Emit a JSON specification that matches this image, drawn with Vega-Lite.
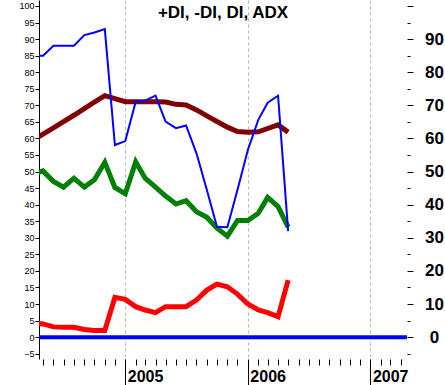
{
  "$schema": "https://vega.github.io/schema/vega-lite/v6.json",
  "width": 368,
  "height": 359,
  "autosize": {"type": "none"},
  "padding": {"left": 39, "top": 0, "right": 38, "bottom": 26},
  "background": "white",
  "config": {"view": {"stroke": null}, "font": "Liberation Sans"},
  "title": {
    "text": "+DI, -DI, DI, ADX",
    "anchor": "middle",
    "frame": "group",
    "font": "Liberation Sans",
    "fontSize": 17,
    "fontWeight": "bold",
    "color": "black",
    "baseline": "alphabetic",
    "offset": 0,
    "dy": 38
  },
  "datasets": {
    "di": [
      {"date": "2004-04-01", "pdi": 49.2, "mdi": 4.2, "dx": 85, "adx": 59.5},
      {"date": "2004-05-01", "pdi": 50.2, "mdi": 4.0, "dx": 85, "adx": 61.3},
      {"date": "2004-06-01", "pdi": 47.0, "mdi": 3.1, "dx": 88, "adx": 63.2},
      {"date": "2004-07-01", "pdi": 45.3, "mdi": 3.0, "dx": 88, "adx": 65.1},
      {"date": "2004-08-01", "pdi": 48.0, "mdi": 3.0, "dx": 88, "adx": 67.0},
      {"date": "2004-09-01", "pdi": 45.3, "mdi": 2.3, "dx": 91.2, "adx": 69.0},
      {"date": "2004-10-01", "pdi": 47.5, "mdi": 2.0, "dx": 92, "adx": 71.0},
      {"date": "2004-11-01", "pdi": 52.8, "mdi": 2.0, "dx": 93, "adx": 72.9},
      {"date": "2004-12-01", "pdi": 45.2, "mdi": 12.0, "dx": 58, "adx": 72.0},
      {"date": "2005-01-01", "pdi": 43.3, "mdi": 11.4, "dx": 59.2, "adx": 71.1},
      {"date": "2005-02-01", "pdi": 52.9, "mdi": 9.2, "dx": 71.1, "adx": 71.1},
      {"date": "2005-03-01", "pdi": 48.0, "mdi": 8.2, "dx": 71.4, "adx": 71.1},
      {"date": "2005-04-01", "pdi": 45.3, "mdi": 7.4, "dx": 72.9, "adx": 71.1},
      {"date": "2005-05-01", "pdi": 42.6, "mdi": 9.2, "dx": 65.1, "adx": 71.0},
      {"date": "2005-06-01", "pdi": 40.2, "mdi": 9.2, "dx": 63.1, "adx": 70.3},
      {"date": "2005-07-01", "pdi": 41.2, "mdi": 9.2, "dx": 63.9, "adx": 70.1},
      {"date": "2005-08-01", "pdi": 37.9, "mdi": 11.2, "dx": 55.5, "adx": 68.6},
      {"date": "2005-09-01", "pdi": 36.2, "mdi": 14.2, "dx": 44.4, "adx": 66.8},
      {"date": "2005-10-01", "pdi": 32.9, "mdi": 16.0, "dx": 33.3, "adx": 65.1},
      {"date": "2005-11-01", "pdi": 30.5, "mdi": 15.2, "dx": 33.2, "adx": 63.4},
      {"date": "2005-12-01", "pdi": 35.2, "mdi": 13.0, "dx": 44.4, "adx": 62.1},
      {"date": "2006-01-01", "pdi": 35.2, "mdi": 10.0, "dx": 56.5, "adx": 61.9},
      {"date": "2006-02-01", "pdi": 37.4, "mdi": 8.2, "dx": 65.6, "adx": 62.0},
      {"date": "2006-03-01", "pdi": 42.2, "mdi": 7.4, "dx": 70.8, "adx": 63.0},
      {"date": "2006-04-01", "pdi": 39.4, "mdi": 6.2, "dx": 72.9, "adx": 64.1},
      {"date": "2006-05-01", "pdi": 33.2, "mdi": 17.2, "dx": 32.0, "adx": 61.9}
    ],
    "zero": [
      {"date": "2004-03-01", "value": 0}, {"date": "2004-04-01", "value": 0},
      {"date": "2004-05-01", "value": 0}, {"date": "2004-06-01", "value": 0},
      {"date": "2004-07-01", "value": 0}, {"date": "2004-08-01", "value": 0},
      {"date": "2004-09-01", "value": 0}, {"date": "2004-10-01", "value": 0},
      {"date": "2004-11-01", "value": 0}, {"date": "2004-12-01", "value": 0},
      {"date": "2005-01-01", "value": 0}, {"date": "2005-02-01", "value": 0},
      {"date": "2005-03-01", "value": 0}, {"date": "2005-04-01", "value": 0},
      {"date": "2005-05-01", "value": 0}, {"date": "2005-06-01", "value": 0},
      {"date": "2005-07-01", "value": 0}, {"date": "2005-08-01", "value": 0},
      {"date": "2005-09-01", "value": 0}, {"date": "2005-10-01", "value": 0},
      {"date": "2005-11-01", "value": 0}, {"date": "2005-12-01", "value": 0},
      {"date": "2006-01-01", "value": 0}, {"date": "2006-02-01", "value": 0},
      {"date": "2006-03-01", "value": 0}, {"date": "2006-04-01", "value": 0},
      {"date": "2006-05-01", "value": 0}, {"date": "2006-06-01", "value": 0},
      {"date": "2006-07-01", "value": 0}, {"date": "2006-08-01", "value": 0},
      {"date": "2006-09-01", "value": 0}, {"date": "2006-10-01", "value": 0},
      {"date": "2006-11-01", "value": 0}, {"date": "2006-12-01", "value": 0},
      {"date": "2007-01-01", "value": 0}, {"date": "2007-02-01", "value": 0},
      {"date": "2007-03-01", "value": 0}, {"date": "2007-04-01", "value": 0},
      {"date": "2007-05-01", "value": 0}
    ]
  },
  "encoding": {
    "x": {
      "field": "date",
      "type": "temporal",
      "scale": {"domain": [{"year": 2004, "month": 4, "date": 19}, {"year": 2007, "month": 4, "date": 20}]},
      "axis": {
        "title": null,
        "tickCount": {"interval": "month", "step": 1},
        "labelExpr": "month(datum.value) === 0 ? timeFormat(datum.value, '%Y') : ''",
        "labelAlign": "left",
        "labelBaseline": "alphabetic",
        "labelOffset": 2,
        "labelPadding": -4,
        "labelFont": "Liberation Sans",
        "labelFontSize": 16,
        "labelFontWeight": "bold",
        "labelColor": "black",
        "labelOverlap": false,
        "labelBound": false,
        "labelFlush": false,
        "tickSize": {"condition": {"test": "month(datum.value) === 0", "value": 26}, "value": 6},
        "tickColor": "black",
        "tickWidth": 1,
        "domain": false,
        "grid": true,
        "gridDash": [3, 3],
        "gridColor": "#b4b4b4",
        "gridOpacity": {"condition": {"test": "month(datum.value) === 0", "value": 1}, "value": 0}
      }
    }
  },
  "layer": [
    {
      "data": {"name": "zero"},
      "mark": {"type": "line", "color": "#0000ff", "strokeWidth": 4, "clip": true, "strokeCap": "butt"},
      "encoding": {
        "y": {
          "field": "value",
          "type": "quantitative",
          "scale": {"domain": [-6.6, 101.8], "nice": false, "zero": false},
          "axis": {
            "orient": "left",
            "title": null,
            "values": [-5, 0, 5, 10, 15, 20, 25, 30, 35, 40, 45, 50, 55, 60, 65, 70, 75, 80, 85, 90, 95, 100],
            "tickSize": 4,
            "tickColor": "black",
            "domainColor": "black",
            "labelFont": "Liberation Sans",
            "labelFontSize": 9,
            "labelPadding": 1,
            "labelColor": "black",
            "labelOverlap": false,
            "labelBound": false,
            "labelFlush": false,
            "grid": false
          }
        }
      }
    },
    {
      "data": {"name": "di"},
      "mark": {"type": "line", "color": "#800000", "strokeWidth": 5, "clip": true, "strokeCap": "butt"},
      "encoding": {
        "y": {
          "field": "adx",
          "type": "quantitative",
          "scale": {"domain": [-6.6, 101.8], "nice": false, "zero": false},
          "axis": {
            "orient": "right",
            "title": null,
            "values": [-5, 0, 5, 10, 15, 20, 25, 30, 35, 40, 45, 50, 55, 60, 65, 70, 75, 80, 85, 90, 95, 100],
            "labelExpr": "datum.value % 10 === 0 && datum.value >= 0 && datum.value <= 90 ? datum.label : ''",
            "tickSize": {"condition": {"test": "datum.value % 10 === 0", "value": 6}, "value": 3},
            "tickColor": "black",
            "domain": false,
            "grid": false,
            "labelFont": "Liberation Sans",
            "labelFontSize": 17,
            "labelFontWeight": "bold",
            "labelAlign": "center",
            "labelPadding": 21,
            "labelColor": "black",
            "labelOverlap": false,
            "labelBound": false,
            "labelFlush": false
          }
        }
      }
    },
    {
      "data": {"name": "di"},
      "mark": {"type": "line", "color": "#008000", "strokeWidth": 5, "clip": true, "strokeCap": "butt"},
      "encoding": {
        "y": {"field": "pdi", "type": "quantitative", "scale": {"domain": [-6.6, 101.8], "nice": false, "zero": false}, "axis": null}
      }
    },
    {
      "data": {"name": "di"},
      "mark": {"type": "line", "color": "#ff0000", "strokeWidth": 5, "clip": true, "strokeCap": "butt"},
      "encoding": {
        "y": {"field": "mdi", "type": "quantitative", "scale": {"domain": [-6.6, 101.8], "nice": false, "zero": false}, "axis": null}
      }
    },
    {
      "data": {"name": "di"},
      "mark": {"type": "line", "color": "#0000ff", "strokeWidth": 2, "clip": true, "strokeCap": "butt"},
      "encoding": {
        "y": {"field": "dx", "type": "quantitative", "scale": {"domain": [-6.6, 101.8], "nice": false, "zero": false}, "axis": null}
      }
    }
  ],
  "resolve": {"axis": {"y": "independent"}}
}
